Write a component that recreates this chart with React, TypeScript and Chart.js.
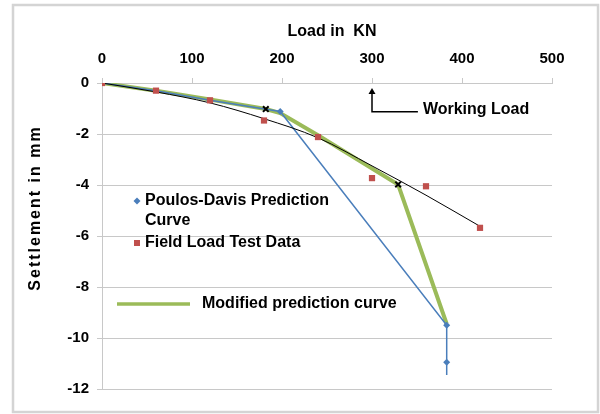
import React, { useEffect, useRef } from "react";
import { Chart, registerables } from "chart.js";

Chart.register(...registerables);

// ---- data ----
const fieldLoad = [0, 60, 120, 180, 240, 300, 360, 420];
const fieldSettle = [0, -0.3, -0.68, -1.47, -2.12, -3.73, -4.05, -5.68];

const poulosLoad = [0, 60, 120, 198, 383, 383, 383];
const poulosSettle = [0, -0.3, -0.68, -1.12, -9.5, -10.95, -11.45];
const poulosMarked = [false, false, false, true, true, true, false];

const modLoad = [0, 60, 120, 182, 198, 240, 329, 383];
const modSettle = [0, -0.3, -0.65, -1.02, -1.18, -2.05, -3.98, -9.45];

const trendLoad = [0, 60, 120, 180, 240, 300, 360, 420];
const trendSettle = [0, -0.35, -0.78, -1.4, -2.15, -3.25, -4.4, -5.62];

const crossLoad = [182, 329];
const crossSettle = [-1.02, -3.98];

const xTitle = "Load in  KN";
const yTitle = "Settlement in mm";
const workingLoad = 300;
const workingLabel = "Working Load";
const legendLabels = ["Poulos-Davis Prediction", "Curve", "Field Load Test Data", "Modified prediction curve"];

const FONT = "'Liberation Sans', Arial, sans-serif";
const BLUE = "#4a7ebb";
const RED = "#c0504d";
const GREEN = "#9bbb59";
const GRID = "#c8c8c8";

const pts = (xs: number[], ys: number[]) => xs.map((x, i) => ({ x, y: ys[i] }));

const decorPlugin = {
  id: "decor",
  beforeDraw(chart: any) {
    const ctx = chart.ctx;
    ctx.save();
    ctx.fillStyle = "#ffffff";
    ctx.fillRect(0, 0, chart.width, chart.height);
    ctx.strokeStyle = "#d4d4d4";
    ctx.lineWidth = 2.5;
    ctx.strokeRect(13, 5, 585, 407);
    ctx.restore();
  },
  afterDraw(chart: any) {
    const ctx = chart.ctx;
    const xs = chart.scales.x;
    const ys = chart.scales.y;
    ctx.save();
    ctx.fillStyle = "#000";
    ctx.textBaseline = "middle";
    // axis titles
    ctx.font = `bold 16px ${FONT}`;
    ctx.textAlign = "center";
    ctx.fillText(xTitle, 332, 32);
    ctx.save();
    ctx.translate(36, 209);
    ctx.rotate(-Math.PI / 2);
    ctx.font = `bold 16px ${FONT}`;
    (ctx as any).letterSpacing = "2px";
    ctx.fillText(yTitle, 1, 0);
    (ctx as any).letterSpacing = "0px";
    ctx.restore();

    // working load arrow
    const ax = xs.getPixelForValue(workingLoad);
    const top = ys.getPixelForValue(-0.2);
    const bot = ys.getPixelForValue(-1.13);
    const endX = xs.getPixelForValue(351);
    ctx.strokeStyle = "#000";
    ctx.lineWidth = 1.5;
    ctx.beginPath();
    ctx.moveTo(ax, top + 2);
    ctx.lineTo(ax, bot);
    ctx.lineTo(endX, bot);
    ctx.stroke();
    ctx.beginPath();
    ctx.moveTo(ax, top);
    ctx.lineTo(ax - 3.5, top + 6);
    ctx.lineTo(ax + 3.5, top + 6);
    ctx.closePath();
    ctx.fill();
    ctx.font = `bold 16px ${FONT}`;
    ctx.textAlign = "left";
    ctx.fillText(workingLabel, endX + 5, bot - 2);

    // legend
    ctx.font = `bold 16px ${FONT}`;
    ctx.fillText(legendLabels[0], 145, 201);
    ctx.fillText(legendLabels[1], 145, 221);
    ctx.fillText(legendLabels[2], 145, 243);
    ctx.fillText(legendLabels[3], 202, 304);
    ctx.fillStyle = BLUE;
    ctx.beginPath();
    ctx.moveTo(137, 197.5);
    ctx.lineTo(140.5, 201);
    ctx.lineTo(137, 204.5);
    ctx.lineTo(133.5, 201);
    ctx.closePath();
    ctx.fill();
    ctx.fillStyle = RED;
    ctx.fillRect(134, 240, 6, 6);
    ctx.strokeStyle = GREEN;
    ctx.lineWidth = 3.5;
    ctx.beginPath();
    ctx.moveTo(117, 304);
    ctx.lineTo(190, 304);
    ctx.stroke();
    ctx.restore();
  },
};

export default function App() {
  const ref = useRef<HTMLCanvasElement>(null);
  useEffect(() => {
    if (!ref.current) return;
    const chart = new Chart(ref.current, {
      type: "scatter",
      data: {
        datasets: [
          {
            label: "x",
            data: pts(crossLoad, crossSettle),
            pointStyle: "crossRot",
            pointRadius: 4,
            borderColor: "#000",
            borderWidth: 2,
            showLine: false,
            order: 0,
          },
          {
            label: "Field Load Test Data",
            data: pts(fieldLoad, fieldSettle),
            pointStyle: "rect",
            pointRadius: 4.4,
            backgroundColor: RED,
            borderColor: RED,
            borderWidth: 0,
            showLine: false,
            order: 1,
          },
          {
            label: "trend",
            data: pts(trendLoad, trendSettle),
            showLine: true,
            borderColor: "#000",
            borderWidth: 1,
            pointRadius: 0,
            tension: 0.4,
            cubicInterpolationMode: "monotone",
            order: 2,
          },
          {
            label: "Poulos-Davis Prediction Curve",
            data: pts(poulosLoad, poulosSettle),
            showLine: true,
            borderColor: BLUE,
            backgroundColor: BLUE,
            borderWidth: 1.5,
            pointStyle: "rectRot",
            pointRadius: poulosMarked.map((m) => (m ? 3.5 : 0)),
            pointBorderWidth: 0,
            order: 3,
          },
          {
            label: "Modified prediction curve",
            data: pts(modLoad, modSettle),
            showLine: true,
            borderColor: GREEN,
            borderWidth: 4,
            pointRadius: 0,
            order: 4,
          },
        ],
      },
      options: {
        animation: false,
        responsive: false,
        layout: { padding: { left: 0, top: 0, right: 48, bottom: 25 } },
        plugins: { legend: { display: false }, tooltip: { enabled: false } },
        scales: {
          x: {
            type: "linear",
            position: "top",
            min: 0,
            max: 500,
            afterFit: (s: any) => {
              s.height = 83;
            },
            ticks: {
              stepSize: 100,
              color: "#000",
              padding: 10,
              font: { family: FONT, size: 15, weight: "bold" },
            },
            grid: { drawOnChartArea: false, color: GRID, tickLength: 5 },
            border: { color: GRID },
          },
          y: {
            min: -12,
            max: 0,
            afterFit: (s: any) => {
              s.width = 102;
            },
            ticks: {
              stepSize: 2,
              color: "#000",
              padding: 8,
              font: { family: FONT, size: 15, weight: "bold" },
            },
            grid: { color: GRID, tickLength: 5 },
            border: { color: GRID },
          },
        },
      },
      plugins: [decorPlugin],
    } as any);
    return () => chart.destroy();
  }, []);
  return (
    <div style={{ position: "fixed", left: 0, top: 0, width: 600, height: 414 }}>
      <canvas ref={ref} width={600} height={414} />
    </div>
  );
}
